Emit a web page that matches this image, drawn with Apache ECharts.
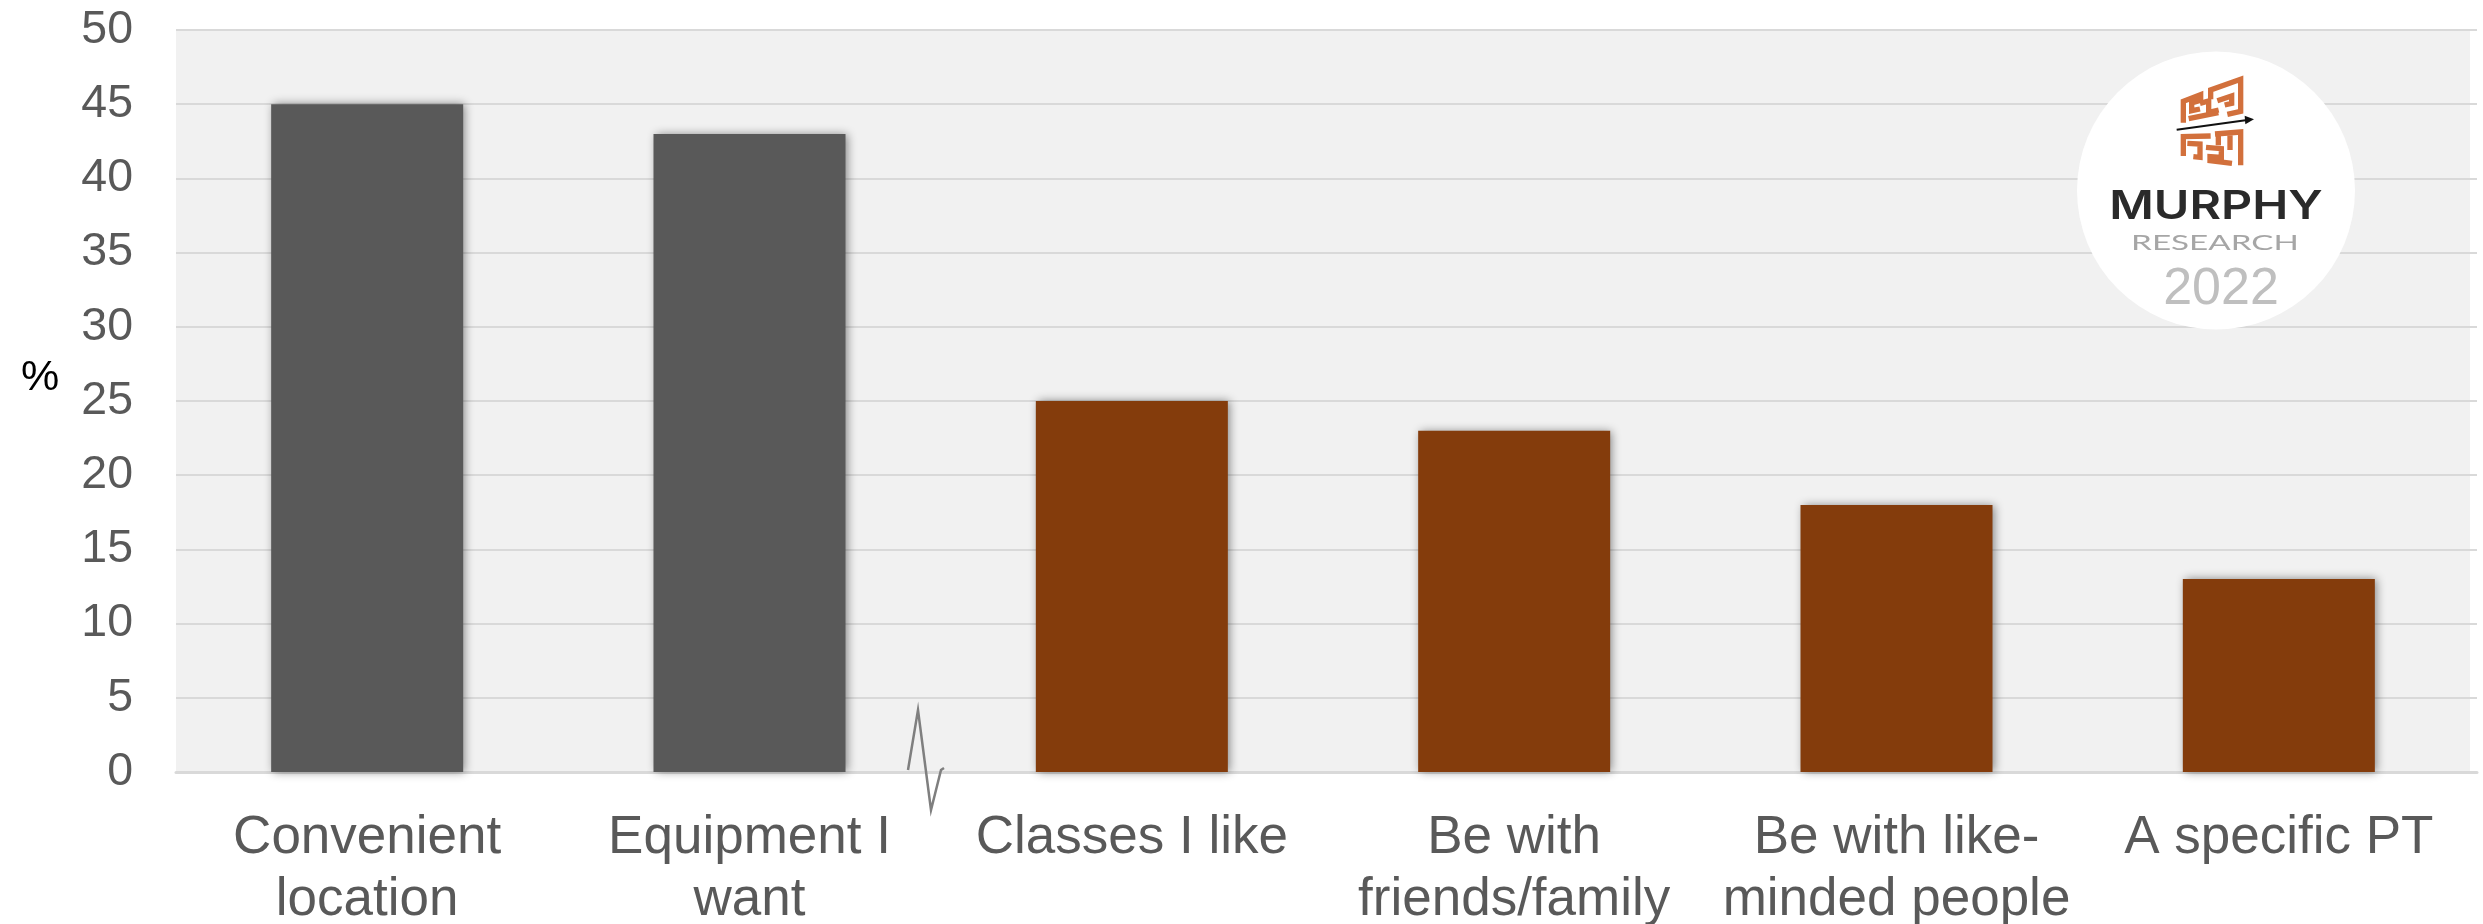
<!DOCTYPE html>
<html>
<head>
<meta charset="utf-8">
<style>html,body{margin:0;padding:0;background:#fff}#chart{width:2483px;height:924px}</style>
<script src="https://cdn.jsdelivr.net/npm/echarts@6/dist/echarts.min.js"></script>
</head>
<body>
<div id="chart"></div>
<script>
const categories = ['Convenient\nlocation', 'Equipment I\nwant', 'Classes I like', 'Be with\nfriends/family', 'Be with like-\nminded people', 'A specific PT'];
const practicalValues = [45, 43, null, null, null, null];
const socialValues = [null, null, 25, 23, 18, 13];
const axisMin = 0;
const axisMax = 50;
const axisStep = 5;

const FONT = '"Liberation Sans", Arial, sans-serif';
const MAZE = '#d2703c';

// Zigzag break on the baseline between the two groups of bars
const breakMark = [[908, 770], [918, 710], [931, 810], [941, 770], [944, 768]];

// Brand mark strokes, in a local 390x300 space
const mazeStrokes = [
  [[100, 158], [100, 94], [152, 74], [152, 91], [125, 99], [125, 122], [150, 117]],
  [[150, 100], [176, 93], [176, 127], [206, 120]],
  [[116, 146], [205, 128]],
  [[182, 88], [182, 60], [272, 28], [272, 124], [232, 133]],
  [[202, 92], [245, 78], [245, 100], [224, 105]],
  [[100, 258], [100, 200], [182, 198]],
  [[112, 220], [150, 222], [150, 262], [130, 260]],
  [[195, 192], [272, 186], [272, 286]],
  [[168, 232], [214, 236], [214, 262], [180, 260], [180, 272], [246, 280]],
  [[240, 196], [240, 240]],
  [[205, 196], [205, 226]]
];

const mazeGroup = {
  type: 'group', x: 2150, y: 70, scaleX: 1 / 3, scaleY: 1 / 3, z: 102,
  children: mazeStrokes.map(points => ({
    type: 'polyline', z: 102,
    shape: { points },
    style: { stroke: MAZE, fill: null, lineWidth: 16, lineJoin: 'miter', lineCap: 'butt' }
  })).concat([
    { type: 'line', z: 103, shape: { x1: 80, y1: 179, x2: 292, y2: 150 }, style: { stroke: '#111', lineWidth: 6 } },
    { type: 'polygon', z: 103, shape: { points: [[284, 137], [312, 148], [286, 163]] }, style: { fill: '#111' } }
  ])
};

const barShadow = { shadowBlur: 9, shadowOffsetX: 2, shadowColor: 'rgba(0,0,0,0.45)' };

const chart = echarts.init(document.getElementById('chart'), null, { renderer: 'canvas' });

chart.setOption({
  animation: false,
  backgroundColor: '#ffffff',
  grid: [
    // Shaded plot holding the bars
    { left: 176, top: 30, width: 2294, height: 742, show: true, backgroundColor: '#f1f1f1', borderWidth: 0, outerBoundsMode: 'none' },
    // Slightly wider frame carrying the gridlines and tick labels
    { left: 176, top: 30, width: 2301, height: 742, show: false, outerBoundsMode: 'none' }
  ],
  xAxis: [
    {
      type: 'category', gridIndex: 0, data: categories,
      axisLine: { show: false }, axisTick: { show: false },
      axisLabel: {
        interval: 0, margin: 35, color: '#595959', fontFamily: FONT, fontSize: 53, lineHeight: 62
      }
    },
    {
      type: 'value', gridIndex: 1, min: 0, max: 1,
      axisLine: { show: true, onZero: false, lineStyle: { color: '#d9d9d9', width: 3 } },
      axisTick: { show: false }, axisLabel: { show: false }, splitLine: { show: false }
    }
  ],
  yAxis: [
    {
      type: 'value', gridIndex: 0, min: axisMin, max: axisMax, interval: axisStep,
      axisLine: { show: false }, axisTick: { show: false }, axisLabel: { show: false }, splitLine: { show: false }
    },
    {
      type: 'value', gridIndex: 1, min: axisMin, max: axisMax, interval: axisStep,
      axisLine: { show: false }, axisTick: { show: false },
      axisLabel: {
        margin: 43, color: '#595959', fontFamily: FONT, fontSize: 46.5, padding: [0, 0, 2, 0],
        showMinLabel: true, showMaxLabel: true
      },
      splitLine: { show: true, lineStyle: { color: '#d9d9d9', width: 2 } }
    }
  ],
  series: [
    {
      name: 'Practical', type: 'bar', xAxisIndex: 0, yAxisIndex: 0, data: practicalValues,
      barWidth: 192, barGap: '-100%',
      itemStyle: Object.assign({ color: '#595959' }, barShadow)
    },
    {
      name: 'Social', type: 'bar', xAxisIndex: 0, yAxisIndex: 0, data: socialValues,
      barWidth: 192, barGap: '-100%',
      itemStyle: Object.assign({ color: '#843c0c' }, barShadow)
    }
  ],
  graphic: [
    {
      type: 'text', x: 40, y: 378, z: 100,
      style: { text: '%', fill: '#000000', font: '43px ' + FONT, align: 'center', verticalAlign: 'middle' }
    },
    {
      type: 'polyline', z: 100, shape: { points: breakMark },
      style: { stroke: '#7f7f7f', fill: null, lineWidth: 2.5 }
    },
    { type: 'circle', z: 101, shape: { cx: 2216, cy: 190.5, r: 139 }, style: { fill: '#ffffff' } },
    mazeGroup,
    {
      type: 'text', x: 2216, y: 207.5, scaleX: 1.24, z: 102,
      style: { text: 'MURPHY', fill: '#2a2a2a', font: '600 39px Inter, sans-serif', align: 'center', verticalAlign: 'middle' }
    },
    {
      type: 'text', x: 2215, y: 243, scaleX: 1.51, z: 102,
      style: { text: 'RESEARCH', fill: '#a6a6a6', font: '22px Lato, sans-serif', align: 'center', verticalAlign: 'middle' }
    },
    {
      type: 'text', x: 2221, y: 290, z: 102,
      style: { text: '2022', fill: '#bfbfbf', font: '52px ' + FONT, align: 'center', verticalAlign: 'middle' }
    }
  ]
});
</script>
</body>
</html>
